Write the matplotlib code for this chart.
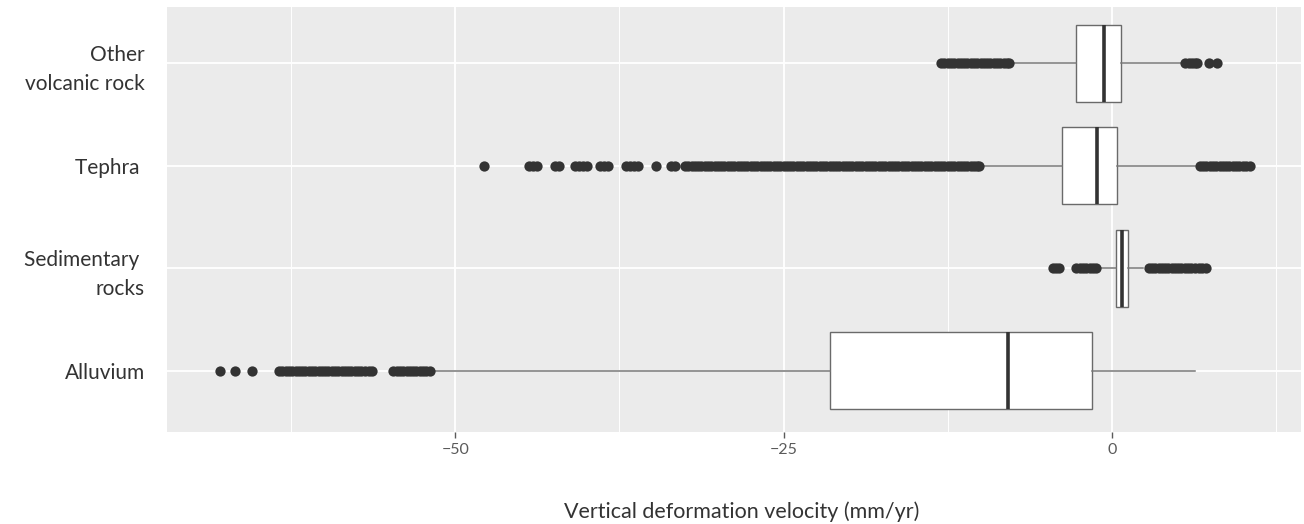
import matplotlib.pyplot as plt
from matplotlib.ticker import FixedLocator

# rock types, top to bottom as in the figure
categories = ["Other\nvolcanic rock", "Tephra ", "Sedimentary \nrocks", "Alluvium"]

# box statistics (mm/yr)
q1 = [-2.75, -3.8, 0.35, -21.5]
median = [-0.6, -1.1, 0.75, -7.9]
q3 = [0.7, 0.4, 1.25, -1.5]
whisker_low = [-7.5, -9.8, -0.8, -51.5]
whisker_high = [5.4, 6.3, 2.4, 6.3]

# outliers (dense stretches are many overlapping points)
outliers_other = [-13.0, -12.75, -12.5, -12.25, -12.0, -11.75, -11.5, -11.25, -11.0,
                  -10.75, -10.5, -10.25, -10.0, -9.75, -9.5, -9.25, -9.0, -8.75,
                  -8.5, -8.25, -8.0, -7.8,
                  5.6, 5.85, 6.1, 6.3, 6.5, 7.4, 8.0]
outliers_tephra = [-47.8, -44.4, -44.1, -43.8, -42.4, -42.1, -40.9, -40.6, -40.3, -40.0,
                   -39.0, -38.7, -38.4, -37.0, -36.7, -36.4, -36.1, -34.7, -33.6, -33.3,
                   -32.5, -32.25, -32.0, -31.75, -31.5, -31.25, -31.0, -30.75, -30.5,
                   -30.25, -30.0, -29.75, -29.5, -29.25, -29.0, -28.75, -28.5, -28.25,
                   -28.0, -27.75, -27.5, -27.25, -27.0, -26.75, -26.5, -26.25, -26.0,
                   -25.75, -25.5, -25.25, -25.0, -24.75, -24.5, -24.25, -24.0, -23.75,
                   -23.5, -23.25, -23.0, -22.75, -22.5, -22.25, -22.0, -21.75, -21.5,
                   -21.25, -21.0, -20.75, -20.5, -20.25, -20.0, -19.75, -19.5, -19.25,
                   -19.0, -18.75, -18.5, -18.25, -18.0, -17.75, -17.5, -17.25, -17.0,
                   -16.75, -16.5, -16.25, -16.0, -15.75, -15.5, -15.25, -15.0, -14.75,
                   -14.5, -14.25, -14.0, -13.75, -13.5, -13.25, -13.0, -12.75, -12.5,
                   -12.25, -12.0, -11.75, -11.5, -11.25, -11.0, -10.75, -10.5, -10.25,
                   -10.1,
                   6.7, 6.95, 7.2, 7.45, 7.7, 7.95, 8.2, 8.45, 8.7, 8.95, 9.2, 9.45,
                   9.7, 9.95, 10.2, 10.5]
outliers_sedimentary = [-4.5, -4.25, -4.0, -2.7, -2.45, -2.2, -1.95, -1.7, -1.45, -1.2,
                        2.8, 3.05, 3.3, 3.55, 3.8, 4.05, 4.3, 4.55, 4.8, 5.05, 5.3,
                        5.55, 5.8, 6.05, 6.3, 6.6, 6.9, 7.2]
outliers_alluvium = [-67.9, -66.8, -65.5,
                     -63.4, -63.15, -62.9, -62.65, -62.4, -62.15, -61.9, -61.65, -61.4,
                     -61.15, -60.9, -60.65, -60.4, -60.15, -59.9, -59.65, -59.4, -59.15,
                     -58.9, -58.65, -58.4, -58.15, -57.9, -57.65, -57.4, -57.15, -56.9,
                     -56.6, -56.3,
                     -54.7, -54.45, -54.2, -53.95, -53.7, -53.45, -53.2, -52.95, -52.7,
                     -52.45, -52.2, -51.9]
outliers = [outliers_other, outliers_tephra, outliers_sedimentary, outliers_alluvium]

x_ticks = [-50, -25, 0]
x_tick_labels = ["\u221250", "\u221225", "0"]
x_minor = [-62.5, -37.5, -12.5, 12.5]

plt.rcParams["font.family"] = ["Lato", "DejaVu Sans"]

fig = plt.figure(figsize=(13.04, 5.24), dpi=100)
ax = fig.add_axes([0.128, 0.1756, 0.8697, 0.811])
ax.set_facecolor("#ebebeb")

n = len(categories)
positions = [n - i for i in range(n)]
stats = []
for i in range(n):
    stats.append({
        "med": median[i], "q1": q1[i], "q3": q3[i],
        "whislo": whisker_low[i], "whishi": whisker_high[i],
        "fliers": outliers[i],
    })

ax.bxp(stats, positions=positions, vert=False, widths=0.75, patch_artist=True,
       showcaps=False,
       boxprops=dict(facecolor="white", edgecolor="#6a6a6a", linewidth=1.0),
       medianprops=dict(color="#333333", linewidth=2.6),
       whiskerprops=dict(color="#777777", linewidth=1.1),
       flierprops=dict(marker="o", markerfacecolor="#333333", markeredgecolor="none",
                       markersize=7.4),
       zorder=3)

ax.set_xlim(-71.95, 14.4)
ax.set_ylim(0.4, 4.55)
ax.set_yticks(positions)
ax.set_yticklabels(categories, fontsize=15, color="#333333", linespacing=1.55)
ax.set_xticks(x_ticks)
ax.set_xticklabels(x_tick_labels, fontsize=11.5, color="#5a5a5a")
ax.xaxis.set_minor_locator(FixedLocator(x_minor))

ax.grid(True, which="major", color="white", linewidth=1.3, zorder=0)
ax.grid(True, which="minor", axis="x", color="white", linewidth=0.7, zorder=0)
ax.set_axisbelow(True)
ax.tick_params(axis="x", which="major", length=4, color="#5a5a5a", width=1, pad=4)
ax.tick_params(axis="x", which="minor", length=0)
ax.tick_params(axis="y", length=0, pad=16)
for s in ax.spines.values():
    s.set_visible(False)

ax.set_xlabel("Vertical deformation velocity (mm/yr)", fontsize=15.5, color="#333333",
              labelpad=32)
ax.xaxis.label.set_x(0.507)

fig.savefig("out.png", dpi=100)
